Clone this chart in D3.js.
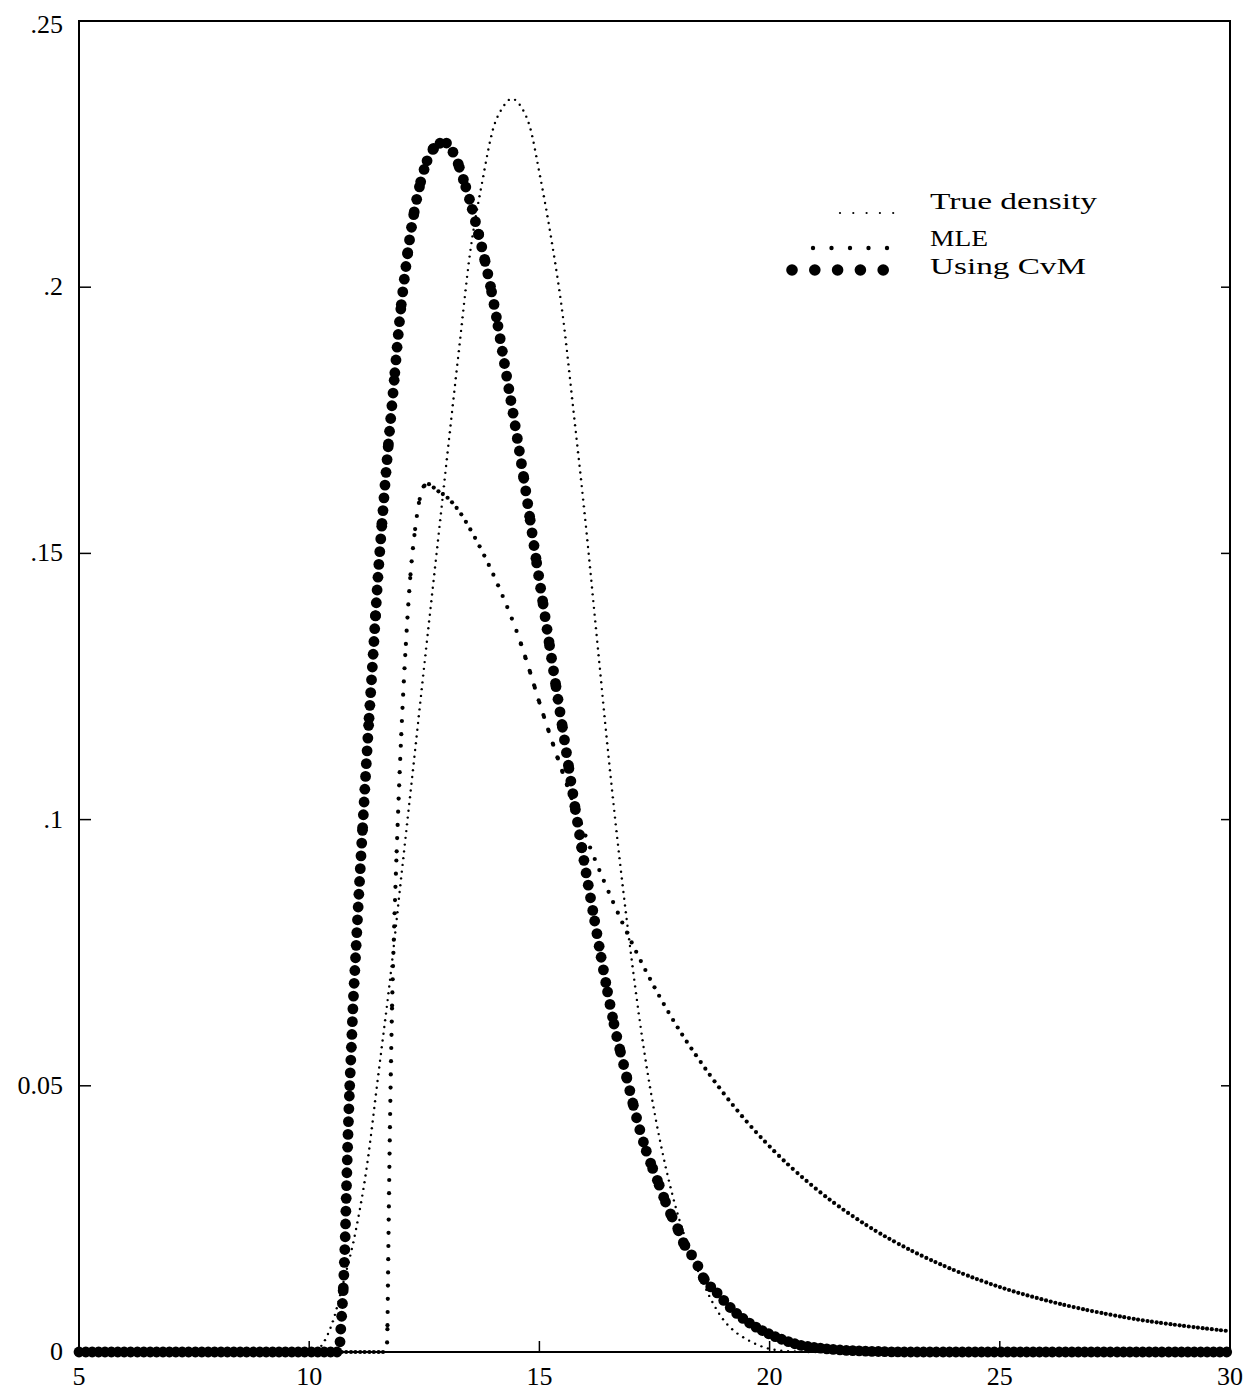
<!DOCTYPE html>
<html>
<head>
<meta charset="utf-8">
<script src="https://cdn.jsdelivr.net/npm/d3@7"></script>
<style>
  body { margin: 0; background: #fff; }
  text { font-family: "Liberation Serif", "DejaVu Serif", serif; fill: #000; }
</style>
</head>
<body>
<svg id="chart" width="1247" height="1392"></svg>
<script>
// Axis ticks
const xTicks = [5, 10, 15, 20, 25, 30];
const xTickLabels = ["5", "10", "15", "20", "25", "30"];
const yTicks = [0, 0.05, 0.1, 0.15, 0.2, 0.25];
const yTickLabels = ["0", "0.05", ".1", ".15", ".2", ".25"];

// Legend entries
const seriesNames = ["True density", "MLE", "Using CvM"];

// True density
const trueX = [5, 10.1, 10.25, 10.5, 10.75, 11, 11.25, 11.5, 11.75, 12, 12.25, 12.5, 12.75, 13, 13.25, 13.5, 13.75, 14, 14.2, 14.4, 14.6, 14.8, 15, 15.25, 15.5, 15.75, 16, 16.25, 16.5, 16.75, 17, 17.25, 17.5, 17.75, 18, 18.25, 18.5, 18.75, 19, 19.25, 19.5, 19.75, 20, 20.5, 21, 30];
const trueY = [0, 0, 0.001, 0.0054, 0.0133, 0.0223, 0.0347, 0.052, 0.0695, 0.0893, 0.109, 0.129, 0.1487, 0.1685, 0.188, 0.2068, 0.2194, 0.2299, 0.2337, 0.2354, 0.2339, 0.2299, 0.2215, 0.2095, 0.1952, 0.176, 0.156, 0.134, 0.112, 0.092, 0.074, 0.058, 0.045, 0.0345, 0.026, 0.0195, 0.0141, 0.0095, 0.006, 0.0038, 0.0024, 0.0013, 0.0006, 0.0001, 0, 0];

// Maximum likelihood fit
const mleX = [5, 11.68, 11.7, 11.72, 11.75, 11.78, 11.8, 11.85, 11.9, 12, 12.1, 12.2, 12.3, 12.4, 12.5, 12.6, 12.75, 13, 13.25, 13.5, 13.75, 14, 14.25, 14.5, 14.75, 15, 15.5, 16, 16.5, 17, 17.5, 18, 18.5, 19, 19.5, 20, 21, 22, 23, 24, 25, 26, 27, 28, 29, 30];
const mleY = [0, 0, 0.005, 0.02, 0.04, 0.056, 0.065, 0.081, 0.094, 0.116, 0.133, 0.146, 0.1545, 0.1602, 0.1627, 0.163, 0.162, 0.1605, 0.158, 0.1545, 0.1505, 0.146, 0.141, 0.1355, 0.129, 0.122, 0.109, 0.097, 0.0865, 0.077, 0.0685, 0.061, 0.0545, 0.0486, 0.0433, 0.0386, 0.0307, 0.0244, 0.0194, 0.0154, 0.0122, 0.0097, 0.0077, 0.0061, 0.0049, 0.0039];

// Cramer-von Mises fit
const cvmX = [5, 10.66, 10.67, 10.7, 10.74, 10.78, 10.81, 10.84, 10.88, 10.92, 10.95, 11, 11.06, 11.17, 11.28, 11.39, 11.49, 11.6, 11.71, 11.82, 11.97, 12.08, 12.19, 12.3, 12.41, 12.52, 12.66, 12.8, 12.95, 13.06, 13.2, 13.3, 13.42, 13.53, 13.64, 13.75, 13.86, 13.96, 14.04, 14.25, 14.47, 14.69, 14.9, 15.12, 15.34, 15.56, 15.77, 15.99, 16.21, 16.42, 16.64, 16.86, 17.08, 17.3, 17.56, 17.84, 17.99, 18.1, 18.23, 18.38, 18.55, 18.86, 19.2, 19.57, 19.94, 20.29, 20.66, 21.03, 21.5, 22, 23, 30];
const cvmY = [0, 0, 0.002, 0.006, 0.012, 0.021, 0.031, 0.04, 0.05, 0.058, 0.0647, 0.073, 0.083, 0.1, 0.1162, 0.1312, 0.1451, 0.1578, 0.1695, 0.18, 0.1943, 0.2025, 0.2095, 0.215, 0.2194, 0.2228, 0.2255, 0.2269, 0.2272, 0.2262, 0.224, 0.2215, 0.2183, 0.215, 0.2113, 0.2075, 0.2033, 0.1992, 0.1956, 0.1852, 0.1742, 0.1625, 0.1505, 0.1383, 0.1261, 0.1141, 0.1025, 0.0912, 0.0805, 0.0704, 0.0608, 0.0529, 0.045, 0.0383, 0.0323, 0.0261, 0.0235, 0.021, 0.0191, 0.0173, 0.0141, 0.0111, 0.0079, 0.0054, 0.0036, 0.0023, 0.0013, 0.0008, 0.0004, 0.0002, 0, 0];

const svg = d3.select("#chart");
const plotLeft = 79, plotRight = 1230, plotTop = 21, plotBottom = 1352;

const x = d3.scaleLinear().domain([5, 30]).range([plotLeft, plotRight]);
const y = d3.scaleLinear().domain([0, 0.25]).range([plotBottom, plotTop]);

// Frame
svg.append("rect")
  .attr("x", plotLeft).attr("y", plotTop)
  .attr("width", plotRight - plotLeft).attr("height", plotBottom - plotTop)
  .attr("fill", "none").attr("stroke", "#000").attr("stroke-width", 2);

// Inward ticks
const tickG = svg.append("g").attr("stroke", "#000").attr("stroke-width", 1.5);
yTicks.slice(1, -1).forEach(v => {
  tickG.append("line").attr("x1", plotLeft).attr("x2", plotLeft + 12).attr("y1", y(v)).attr("y2", y(v));
  tickG.append("line").attr("x1", plotRight).attr("x2", plotRight - 9).attr("y1", y(v)).attr("y2", y(v));
});
xTicks.slice(1, -1).forEach(v => {
  tickG.append("line").attr("x1", x(v)).attr("x2", x(v)).attr("y1", plotBottom).attr("y2", plotBottom - 11);
});

// Tick labels
svg.append("g").selectAll("text").data(yTicks).join("text")
  .attr("x", 63).attr("y", d => Math.max(y(d), 25) + 8)
  .attr("text-anchor", "end").attr("font-size", 26)
  .text((d, i) => yTickLabels[i]);
svg.append("g").selectAll("text").data(xTicks).join("text")
  .attr("x", d => x(d)).attr("y", 1385)
  .attr("text-anchor", "middle").attr("font-size", 26)
  .text((d, i) => xTickLabels[i]);

// Dotted curves: a dot every `gap` px along the curve, plus one at each x step
function dottedCurve(xs, ys, r, gap, xStep) {
  const pts = xs.map((d, i) => [d, ys[i]]);
  const line = d3.line().x(d => x(d[0])).y(d => y(d[1])).curve(d3.curveMonotoneX);
  const guide = svg.append("path").attr("d", line(pts)).attr("fill", "none").attr("stroke", "none");
  const node = guide.node();
  const L = node.getTotalLength();
  const dots = [];
  let lastS = -Infinity;
  let nextGrid = xStep ? 5 : Infinity;
  for (let s = 0; s <= L; s += 0.4) {
    const p = node.getPointAtLength(s);
    const xv = x.invert(p.x);
    let place = false;
    if (xv >= nextGrid) {
      place = true;
      while (nextGrid <= xv) nextGrid += xStep;
    } else if (s - lastS >= gap) {
      place = true;
    }
    if (place) { dots.push([p.x, p.y]); lastS = s; }
  }
  guide.remove();
  svg.append("g").selectAll("circle").data(dots).join("circle")
    .attr("cx", d => d[0]).attr("cy", d => d[1]).attr("r", r).attr("fill", "#000");
}

dottedCurve(trueX, trueY, 1.2, 6.5, 0);
dottedCurve(mleX, mleY, 2.1, 13, 0.1);
dottedCurve(cvmX, cvmY, 5.4, 12.7, 0.14);

// Legend
const legendRows = [
  { name: seriesNames[0], base: 209, dotY: 213, r: 1.1, x0: 840, step: 13.3, width: 167 },
  { name: seriesNames[1], base: 246, dotY: 248, r: 2.2, x0: 813, step: 18.5, width: 58 },
  { name: seriesNames[2], base: 274, dotY: 270, r: 5.8, x0: 792, step: 22.8, width: 156 }
];
legendRows.forEach(row => {
  svg.append("g").selectAll("circle").data(d3.range(5)).join("circle")
    .attr("cx", i => row.x0 + i * row.step).attr("cy", row.dotY).attr("r", row.r).attr("fill", "#000");
  svg.append("text")
    .attr("x", 930).attr("y", row.base).attr("font-size", 24)
    .attr("textLength", row.width).attr("lengthAdjust", "spacingAndGlyphs")
    .text(row.name);
});
</script>
</body>
</html>
